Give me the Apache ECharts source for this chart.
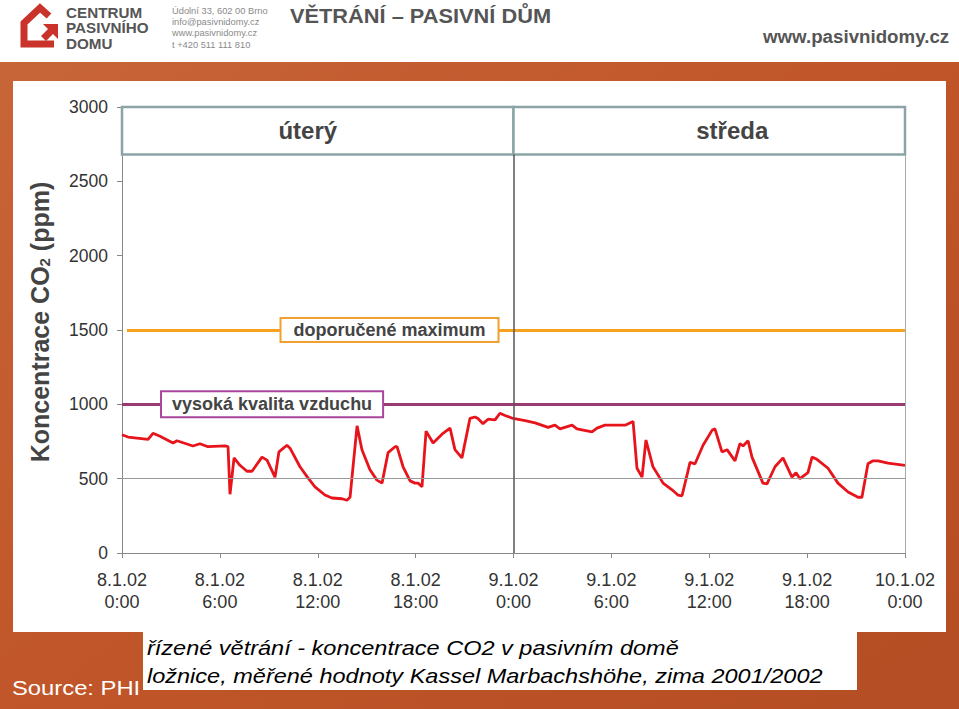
<!DOCTYPE html>
<html><head><meta charset="utf-8">
<script src="https://cdn.jsdelivr.net/npm/echarts@6/dist/echarts.min.js"></script>
<style>html,body{margin:0;padding:0;background:#fff}#c{width:959px;height:709px}</style>
</head><body><div id="c"></div>
<script>
// ---- data ----
const hours = [0,0.37,1.6,1.9,2.33,3.13,3.37,4.35,4.78,5.27,6.31,6.5,6.62,6.87,7.23,7.66,7.97,8.58,8.89,9.38,9.62,10.11,10.3,10.91,11.4,11.83,12.44,12.87,13.49,13.79,13.98,14.41,14.71,15.2,15.63,15.94,16.31,16.74,16.86,17.23,17.66,17.96,18.15,18.39,18.64,19.07,19.68,20.11,20.41,20.84,21.33,21.64,21.82,22.13,22.44,22.87,23.17,23.48,23.97,24.71,25.32,26.12,26.54,26.85,27.59,27.89,28.81,29.12,29.61,30.84,31.33,31.57,31.88,32.12,32.55,33.17,33.72,34.08,34.33,34.64,34.82,35.13,35.62,36.17,36.35,36.78,37.09,37.58,37.88,38.07,38.38,38.62,39.29,39.54,40.03,40.52,41.07,41.32,41.56,42.05,42.3,42.6,43.28,43.89,44.51,45.12,45.36,45.73,46.04,46.35,46.96,48];
const co2 = [795,780,765,805,785,740,755,720,735,715,720,715,395,640,590,550,550,645,625,510,680,725,705,580,505,445,390,370,365,355,375,855,695,560,490,470,675,715,715,580,485,470,470,445,820,740,805,840,695,640,905,915,905,870,900,895,940,925,905,890,875,845,860,835,860,835,815,840,860,860,885,570,510,760,580,470,425,390,385,525,610,600,725,825,835,680,695,620,735,720,755,645,470,465,580,640,510,540,500,540,645,630,570,470,410,375,375,600,620,620,605,590];
const xTickLabels = ['8.1.02\n0:00','8.1.02\n6:00','8.1.02\n12:00','8.1.02\n18:00','9.1.02\n0:00','9.1.02\n6:00','9.1.02\n12:00','9.1.02\n18:00','10.1.02\n0:00'];
const dayNames = ['úterý','středa'];
const dayStarts = [0,24];
const dayEnds = [24,48];
const dayBoxBottom = 2680;
const levelGrid = 500;
const levelHighQuality = 1000;
const levelRecommendedMax = 1500;
const labelHighQuality = 'vysoká kvalita vzduchu';
const labelRecommendedMax = 'doporučené maximum';
const labelHighQualityAt = 9.2;
const labelRecommendedMaxAt = 16.4;

const chart = echarts.init(document.getElementById('c'), null, {renderer:'svg'});
const FONT = 'Liberation Sans, Arial, sans-serif';
const dayLabelOffsets = [[-10,0],[23,0]];

const boxLabel = (txt, border) => ({
  show:true, position:'inside', formatter: txt,
  backgroundColor:'#fff', borderColor: border, borderWidth:2,
  padding:[3,12], fontSize:18, fontWeight:'bold', color:'#444', fontFamily:FONT
});

chart.setOption({
  backgroundColor: {type:'linear',x:0,y:0,x2:1,y2:1,colorStops:[{offset:0,color:'#c8663a'},{offset:0.5,color:'#c05629'},{offset:1,color:'#b54d24'}]},
  animation:false,
  textStyle:{fontFamily:FONT},
  graphic:[
    {type:'rect', z:-10, shape:{x:0,y:0,width:959,height:62}, style:{fill:'#fff'}},
    {type:'rect', z:-10, shape:{x:13,y:81,width:933,height:551}, style:{fill:'#fff'}},
    {type:'rect', z:-10, shape:{x:143,y:632,width:714,height:58}, style:{fill:'#fff'}},
    // logo
    {type:'polyline', z:5, shape:{points:[[54,44],[24,44],[24,23],[40,8],[49,16]]}, style:{stroke:'#c9332b',lineWidth:7,fill:null,lineJoin:'miter'}},
    {type:'polygon', z:5, shape:{points:[[43,24],[58,24],[58,39],[53,34],[46,41],[41,36],[48,29]]}, style:{fill:'#c9332b'}},
    {type:'text', z:5, x:66, y:5, scaleX:1.05, style:{text:'CENTRUM\nPASIVNÍHO\nDOMU', fill:'#555', font:'bold 14.5px '+FONT, lineHeight:15.5}},
    {type:'text', z:5, x:172, y:5, style:{text:'Údolní 33, 602 00 Brno\ninfo@pasivnidomy.cz\nwww.pasivnidomy.cz\nt +420 511 111 810', fill:'#8a8a8a', font:'9.3px '+FONT, lineHeight:11.3}},
    {type:'text', z:5, x:290, y:6, scaleX:1.09, style:{text:'VĚTRÁNÍ – PASIVNÍ DŮM', fill:'#555', font:'bold 20px '+FONT}},
    {type:'text', z:5, x:763, y:28, scaleX:1.04, style:{text:'www.pasivnidomy.cz', fill:'#555', font:'bold 18px '+FONT}},
    // caption
    {type:'text', z:5, x:147, y:634, scaleX:1.12, style:{text:'řízené větrání - koncentrace CO2 v pasivním domě\nložnice, měřené hodnoty Kassel Marbachshöhe, zima 2001/2002', fill:'#000', font:'italic 21px '+FONT, lineHeight:28}},
    {type:'text', z:5, x:12, y:678, scaleX:1.19, style:{text:'Source: PHI', fill:'#fff', font:'20px '+FONT}}
  ],
  grid:{left:122,right:54,top:107,bottom:156,containLabel:false},
  xAxis:{type:'value',min:0,max:48,interval:6,
    axisLine:{show:true,lineStyle:{color:'#888',width:1}},
    axisTick:{show:true,length:5,lineStyle:{color:'#888'}},
    splitLine:{show:false},
    axisLabel:{formatter:v=>xTickLabels[Math.round(v/6)], color:'#333', fontSize:18, lineHeight:22, margin:16, fontFamily:FONT}
  },
  yAxis:{type:'value',min:0,max:3000,interval:500,
    name:'Koncentrace CO{sub|2} (ppm)', nameLocation:'middle', nameGap:70, nameRotate:90,
    nameTextStyle:{fontSize:25,fontWeight:'bold',color:'#444',fontFamily:FONT,padding:[0,0,0,16],
      rich:{sub:{fontSize:15,fontWeight:'bold',color:'#444',verticalAlign:'bottom',padding:[10,0,0,0],fontFamily:FONT}}},
    axisLine:{show:true,lineStyle:{color:'#888',width:1}},
    axisTick:{show:true,length:5,lineStyle:{color:'#888'}},
    splitLine:{show:false},
    axisLabel:{formatter:v=>String(v), color:'#333',fontSize:17.5,margin:14,fontFamily:FONT}
  },
  series:[
    {type:'line', name:'levels', data:[], silent:true, z:1,
      markLine:{silent:true, symbol:'none', label:{show:false},
        data:[
          [{coord:[0,levelGrid],lineStyle:{color:'#999',width:1,type:'solid'}},{coord:[48,levelGrid]}],
          [{coord:[0,levelHighQuality],lineStyle:{color:'#993a72',width:3,type:'solid'}},{coord:[48,levelHighQuality]}],
          [{coord:[0.3,levelRecommendedMax],lineStyle:{color:'#f5a31f',width:3,type:'solid'}},{coord:[48,levelRecommendedMax]}],
          [{coord:[24,0],lineStyle:{color:'#555',width:1.5,type:'solid'}},{coord:[24,dayBoxBottom]}],
          [{coord:[48,0],lineStyle:{color:'#aaa',width:1,type:'solid'}},{coord:[48,dayBoxBottom]}]
        ]},
      markArea:{silent:true,
        itemStyle:{color:'#fff',borderColor:'#8ba5a6',borderWidth:2.5,opacity:1},
        label:{show:true,position:'inside',fontSize:24,fontWeight:'bold',color:'#444',fontFamily:FONT},
        data: dayNames.map((n,i)=>[{name:n,coord:[dayStarts[i],dayBoxBottom],label:{offset:dayLabelOffsets[i]}},{coord:[dayEnds[i],3000]}])
      }
    },
    {type:'line', name:'CO2', data: hours.map((h,i)=>[h,co2[i]]), showSymbol:false, symbol:'none', z:3,
      lineStyle:{color:'#e8141c',width:2.8}, itemStyle:{color:'#e8141c'}},
    {type:'line', name:'labels', data:[], silent:true, z:5,
      markPoint:{silent:true, symbol:'rect', symbolSize:1, itemStyle:{color:'rgba(0,0,0,0)'},
        data:[
          {coord:[labelHighQualityAt,levelHighQuality], label: Object.assign(boxLabel(labelHighQuality,'#a8459c'),{padding:[3,10]})},
          {coord:[labelRecommendedMaxAt,levelRecommendedMax], label: Object.assign(boxLabel(labelRecommendedMax,'#f0a030'),{padding:[2,12]})}
        ]}
    }
  ]
});
</script></body></html>
